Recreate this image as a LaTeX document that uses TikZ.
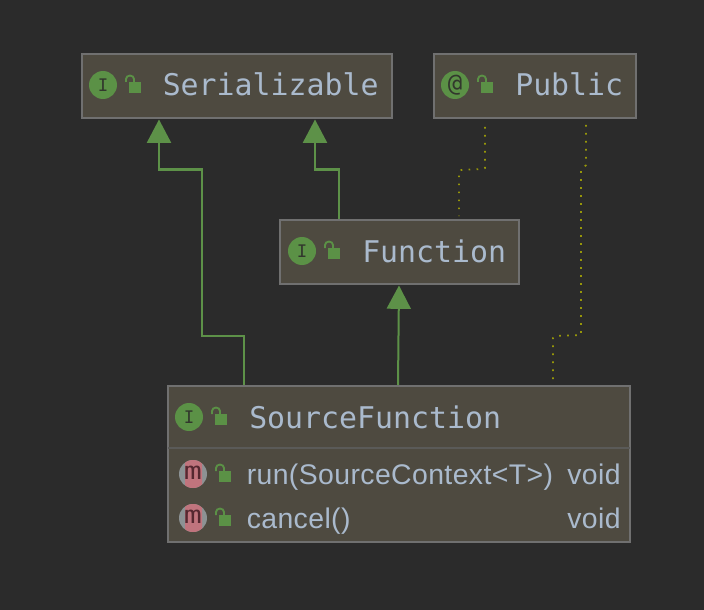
\documentclass[tikz,border=0pt]{standalone}
\usepackage{fontspec}
\setmonofont{DejaVu Sans Mono}
\newfontfamily\membersans[LetterSpace=1.4]{Liberation Sans}
\usetikzlibrary{arrows.meta}
\definecolor{PanelGray}{RGB}{43,43,43}
\definecolor{BoxBrown}{RGB}{78,74,64}
\definecolor{BoxEdge}{RGB}{112,112,112}
\definecolor{RowLine}{RGB}{90,90,88}
\definecolor{NameBlue}{RGB}{170,186,205}
\definecolor{LeafGreen}{RGB}{91,145,70}
\definecolor{LinkGreen}{RGB}{93,145,72}
\definecolor{DotOlive}{RGB}{150,150,10}
\definecolor{MethodPink}{RGB}{192,116,125}
\definecolor{MethodGray}{RGB}{140,146,148}
\definecolor{IconDark}{RGB}{50,55,45}
\definecolor{MethodDark}{RGB}{85,40,48}
\tikzset{
  classbox/.style={draw=BoxEdge,fill=BoxBrown,line width=1.5pt,inner sep=0pt},
  titletext/.style={anchor=base west,inner sep=0pt,text=NameBlue,font=\ttfamily\fontsize{22.4}{24}\selectfont},
  membertext/.style={anchor=base west,inner sep=0pt,text=NameBlue,font=\membersans\fontsize{21.3}{23}\selectfont},
  kindicon/.style={circle,fill=LeafGreen,minimum size=21pt,inner sep=0pt,text=IconDark,font=\ttfamily\fontsize{13}{13}\selectfont},
  methodicon/.style={circle,fill=MethodGray,minimum size=21pt,inner sep=0pt},
  implements/.style={draw=LinkGreen,line width=1.5pt,-{Triangle[length=17.5pt,width=18pt]}},
  annotated/.style={draw=DotOlive,line width=1.3pt,dash pattern=on 1.3pt off 4.7pt},
}
% open padlock, #1 is the icon it stands beside
\newcommand{\padlock}[1]{
  \fill[LeafGreen] ([shift={(26,-3)}]#1.center) rectangle ([shift={(38,8)}]#1.center);
  \draw[LeafGreen,line width=1.4pt] ([shift={(23,-3)}]#1.center) -- ([shift={(23,-6)}]#1.center)
    arc[start angle=180,end angle=0,x radius=3pt,y radius=2.6pt] -- ([shift={(31,-2)}]#1.center);
}
% round method icon, #1 its name, #2 its place
\newcommand{\methodmark}[2]{
  \node[methodicon] (#1) at (#2) {};
  \begin{scope}
  \clip (#1.center) circle (10.5pt);
  \fill[MethodPink,rounded corners=2pt] ([shift={(-8,-15)}]#1.center) rectangle ([shift={(9,15)}]#1.center);
  \end{scope}
  \node[inner sep=0pt,text=MethodDark,xscale=1.25,font=\ttfamily\fontsize{18}{18}\selectfont] (#1text) at ([yshift=1pt]#1.center) {m};
  \padlock{#1}
}
\begin{document}
\begin{tikzpicture}[x=.75pt,y=-.75pt]
\useasboundingbox[fill=PanelGray] (0,0) rectangle (704,610);
% the boxes
\node[classbox,minimum width=232.5pt,minimum height=48pt] (serializable) at (237,86) {};
\node[classbox,minimum width=151.5pt,minimum height=48pt] (public) at (535,86) {};
\node[classbox,minimum width=179.25pt,minimum height=48pt] (function) at (399.5,252) {};
\node[classbox,minimum width=346.5pt,minimum height=117pt] (source) at (399,464) {};
\draw[RowLine,line width=1.5pt] (168,448) -- (630,448);
% titles
\node[kindicon] (serializableicon) at (103,85) {I};\padlock{serializableicon}
\node[titletext] (serializablename) at (162.5,96) {Serializable};
\node[kindicon] (publicicon) at (455,85) {\fontsize{18}{18}\selectfont @};\padlock{publicicon}
\node[titletext] (publicname) at (515,96) {Public};
\node[kindicon] (functionicon) at (302,251) {I};\padlock{functionicon}
\node[titletext] (functionname) at (362,262) {Function};
\node[kindicon] (sourceicon) at (189,417) {I};\padlock{sourceicon}
\node[titletext] (sourcename) at (249,428) {SourceFunction};
% members
\methodmark{runicon}{193,474}
\node[membertext] (runname) at (246.5,484) {run(SourceContext<T>)};
\node[membertext] (runtype) at (567,484) {void};
\methodmark{cancelicon}{193,518}
\node[membertext] (cancelname) at (246.5,528) {cancel()};
\node[membertext] (canceltype) at (567,528) {void};
% links
\coordinate (sourceout) at (243.5,385);\coordinate (serialin) at (159,119.5);
\draw[implements] (sourceout) -- (243.5,335.5) -- (201.5,335.5) -- (201.5,169.5) -- (159,169.5) -- (serialin);
\coordinate (funcout) at (339,219);\coordinate (serialintwo) at (315,119.5);
\draw[implements] (funcout) -- (339,169.5) -- (315,169.5) -- (serialintwo);
\coordinate (sourcemid) at (398,385);\coordinate (funcin) at (399,285.5);
\draw[implements] (sourcemid) -- (funcin);
\coordinate (pubone) at (485,127);\coordinate (funcdot) at (459,216);
\draw[annotated] (pubone) -- (485,168) -- (483,169) -- (460,170) -- (459,172) -- (funcdot);
\coordinate (pubtwo) at (586,125);\coordinate (sourcedot) at (553,382);
\draw[annotated] (pubtwo) -- (586,165) -- (581,171) -- (581,335) -- (555,336) -- (553,338) -- (sourcedot);
\end{tikzpicture}
\end{document}
